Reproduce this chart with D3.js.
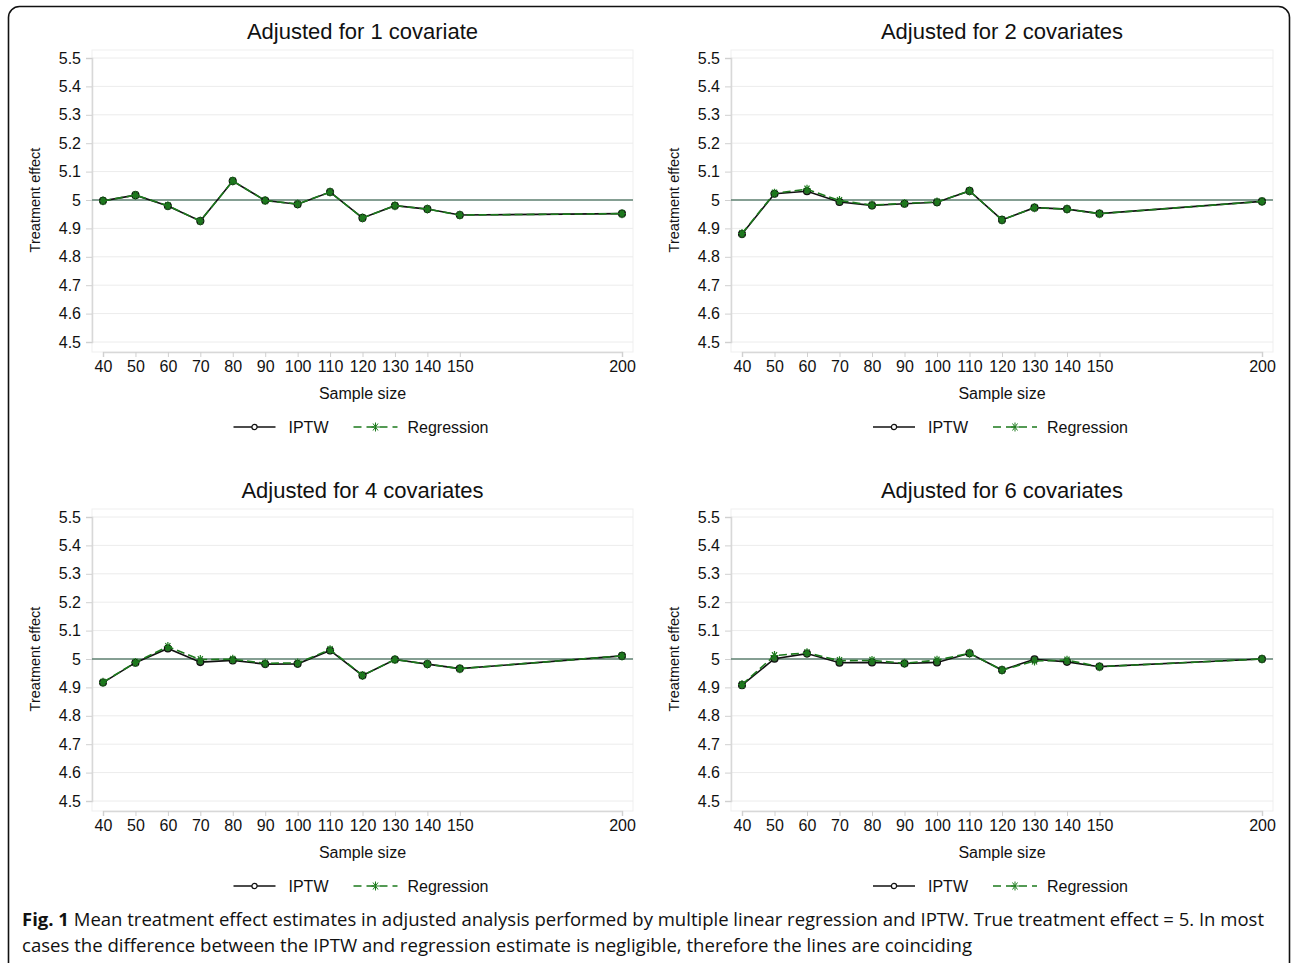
<!DOCTYPE html>
<html>
<head>
<meta charset="utf-8">
<script src="https://cdn.jsdelivr.net/npm/d3@7"></script>
<style>
  body { margin: 0; background: #fff; }
  svg text { font-family: "Liberation Sans", Arial, sans-serif; fill: #111; }
</style>
</head>
<body>
<svg id="fig" width="1292" height="963"></svg>
<script>
// sample sizes on the x axis
const sampleSizes = [40, 50, 60, 70, 80, 90, 100, 110, 120, 130, 140, 150, 200];
const yTicks = [4.5, 4.6, 4.7, 4.8, 4.9, 5, 5.1, 5.2, 5.3, 5.4, 5.5];
const trueEffect = 5;

const panelTitles = ["Adjusted for 1 covariate", "Adjusted for 2 covariates",
                     "Adjusted for 4 covariates", "Adjusted for 6 covariates"];

// mean estimates
const iptw1 = [4.997, 5.017, 4.979, 4.926, 5.067, 4.998, 4.985, 5.028, 4.937, 4.980, 4.968, 4.947, 4.952];
const reg1  = [4.997, 5.017, 4.980, 4.926, 5.067, 4.998, 4.986, 5.028, 4.937, 4.980, 4.968, 4.947, 4.952];
const iptw2 = [4.880, 5.022, 5.031, 4.993, 4.981, 4.987, 4.992, 5.032, 4.930, 4.973, 4.968, 4.952, 4.995];
const reg2  = [4.882, 5.024, 5.038, 4.998, 4.982, 4.988, 4.993, 5.032, 4.930, 4.973, 4.968, 4.952, 4.995];
const iptw4 = [4.917, 4.987, 5.037, 4.989, 4.995, 4.982, 4.983, 5.030, 4.942, 4.998, 4.982, 4.966, 5.011];
const reg4  = [4.918, 4.988, 5.044, 4.998, 4.999, 4.985, 4.986, 5.033, 4.942, 4.998, 4.982, 4.966, 5.011];
const iptw6 = [4.908, 5.001, 5.019, 4.987, 4.988, 4.984, 4.988, 5.020, 4.961, 4.999, 4.990, 4.973, 5.000];
const reg6  = [4.910, 5.012, 5.022, 4.994, 4.995, 4.985, 4.996, 5.020, 4.961, 4.993, 4.996, 4.973, 5.000];

const panelData = [[iptw1, reg1], [iptw2, reg2], [iptw4, reg4], [iptw6, reg6]];

const green = "#1c7a1c";
const svg = d3.select("#fig");

// outer frame of the figure
svg.append("rect")
  .attr("x", 8.5).attr("y", 6.5)
  .attr("width", 1281).attr("height", 1100)
  .attr("rx", 11)
  .attr("fill", "none")
  .attr("stroke", "#111")
  .attr("stroke-width", 1.6);

// plot region for each panel (left, top, width, height)
const panelBoxes = [
  {x: 92, y: 50, w: 541, h: 302},
  {x: 731, y: 50, w: 542, h: 302},
  {x: 92, y: 509, w: 541, h: 302},
  {x: 731, y: 509, w: 542, h: 302}
];

const starPath = "M-4,0L4,0M-2.5,-3.5L2.5,3.5M-2.5,3.5L2.5,-3.5M0,-4.5L0,4.5";

function drawPanel(i) {
  const box = panelBoxes[i];
  const g = svg.append("g").attr("transform", `translate(${box.x},${box.y})`);
  const [iptw, reg] = panelData[i];

  const x = d3.scaleLinear().domain([40, 200]).range([11, box.w - 11]);
  const y = d3.scaleLinear().domain([4.5, 5.5]).range([box.h - 10, 8]);

  // plot region outline
  g.append("rect")
    .attr("width", box.w).attr("height", box.h)
    .attr("fill", "none").attr("stroke", "#efefef");

  // gridlines
  g.selectAll(".grid").data(yTicks).join("line")
    .attr("x1", 0).attr("x2", box.w)
    .attr("y1", d => y(d)).attr("y2", d => y(d))
    .attr("stroke", "#ececec").attr("stroke-width", 1);

  // axes
  const yAxis = g.append("g").call(d3.axisLeft(y).tickValues(yTicks).tickSize(6).tickPadding(3).tickFormat(d3.format("")));
  const xAxis = g.append("g").attr("transform", `translate(0,${box.h})`)
    .call(d3.axisBottom(x).tickValues(sampleSizes).tickSize(5).tickPadding(4));
  [yAxis, xAxis].forEach(a => {
    a.select(".domain").attr("stroke", "#d8d8d8").attr("stroke-width", 1.5);
    a.selectAll(".tick line").attr("stroke", "#d0d0d0");
    a.selectAll(".tick text").attr("font-size", 16).attr("fill", "#111")
      .attr("font-family", "'Liberation Sans', Arial, sans-serif");
  });
  yAxis.selectAll(".tick text").attr("dx", -2);

  // true effect reference line
  g.append("line")
    .attr("x1", 0).attr("x2", box.w)
    .attr("y1", y(trueEffect)).attr("y2", y(trueEffect))
    .attr("stroke", "#5f8272").attr("stroke-width", 1.3);

  const line = d3.line().x((d, j) => x(sampleSizes[j])).y(d => y(d));

  // IPTW
  g.append("path").datum(iptw)
    .attr("d", line).attr("fill", "none")
    .attr("stroke", "#111").attr("stroke-width", 1.6);
  g.selectAll(".ipt").data(iptw).join("circle")
    .attr("cx", (d, j) => x(sampleSizes[j])).attr("cy", d => y(d))
    .attr("r", 3.4).attr("fill", "#2f6b2f")
    .attr("stroke", "#111").attr("stroke-width", 1.3);

  // Regression
  g.append("path").datum(reg)
    .attr("d", line).attr("fill", "none")
    .attr("stroke", green).attr("stroke-width", 1.6)
    .attr("stroke-dasharray", "8,4");
  g.selectAll(".reg").data(reg).join("path")
    .attr("transform", (d, j) => `translate(${x(sampleSizes[j])},${y(d)})`)
    .attr("d", starPath)
    .attr("stroke", green).attr("stroke-width", 1.2).attr("fill", "none");

  // titles
  g.append("text")
    .attr("x", box.w / 2).attr("y", -11)
    .attr("text-anchor", "middle").attr("font-size", 22)
    .text(panelTitles[i]);

  g.append("text")
    .attr("transform", `translate(${-52},${y(5)}) rotate(-90)`)
    .attr("text-anchor", "middle").attr("font-size", 14.5)
    .text("Treatment effect");

  g.append("text")
    .attr("x", box.w / 2).attr("y", box.h + 47)
    .attr("text-anchor", "middle").attr("font-size", 16)
    .text("Sample size");

  // legend
  const lg = g.append("g").attr("transform", `translate(${box.w / 2 - 143},${box.h + 75})`);
  lg.append("line").attr("x1", 14).attr("x2", 56).attr("stroke", "#111").attr("stroke-width", 1.4);
  lg.append("circle").attr("cx", 35).attr("r", 2.6).attr("fill", "#fff").attr("stroke", "#111").attr("stroke-width", 1.2);
  lg.append("text").attr("x", 69).attr("y", 6).attr("font-size", 16).text("IPTW");
  lg.append("line").attr("x1", 134).attr("x2", 178).attr("stroke", green)
    .attr("stroke-width", 1.4).attr("stroke-dasharray", "8,5");
  lg.append("path").attr("transform", "translate(156,0)").attr("d", starPath)
    .attr("stroke", green).attr("stroke-width", 1).attr("fill", "none");
  lg.append("text").attr("x", 188).attr("y", 6).attr("font-size", 16).text("Regression");
}

d3.range(4).forEach(drawPanel);

// caption
const cap = svg.append("g");
const line1 = cap.append("text").attr("x", 22).attr("y", 926)
  .attr("textLength", 1242).attr("lengthAdjust", "spacingAndGlyphs")
  .style("font-family", "'Open Sans', sans-serif").attr("font-size", 18);
line1.append("tspan").attr("font-weight", "bold").text("Fig. 1");
line1.append("tspan").text(" Mean treatment effect estimates in adjusted analysis performed by multiple linear regression and IPTW. True treatment effect = 5. In most");
cap.append("text").attr("x", 22).attr("y", 952)
  .attr("textLength", 950).attr("lengthAdjust", "spacingAndGlyphs")
  .style("font-family", "'Open Sans', sans-serif").attr("font-size", 18)
  .text("cases the difference between the IPTW and regression estimate is negligible, therefore the lines are coinciding");
</script>
</body>
</html>
